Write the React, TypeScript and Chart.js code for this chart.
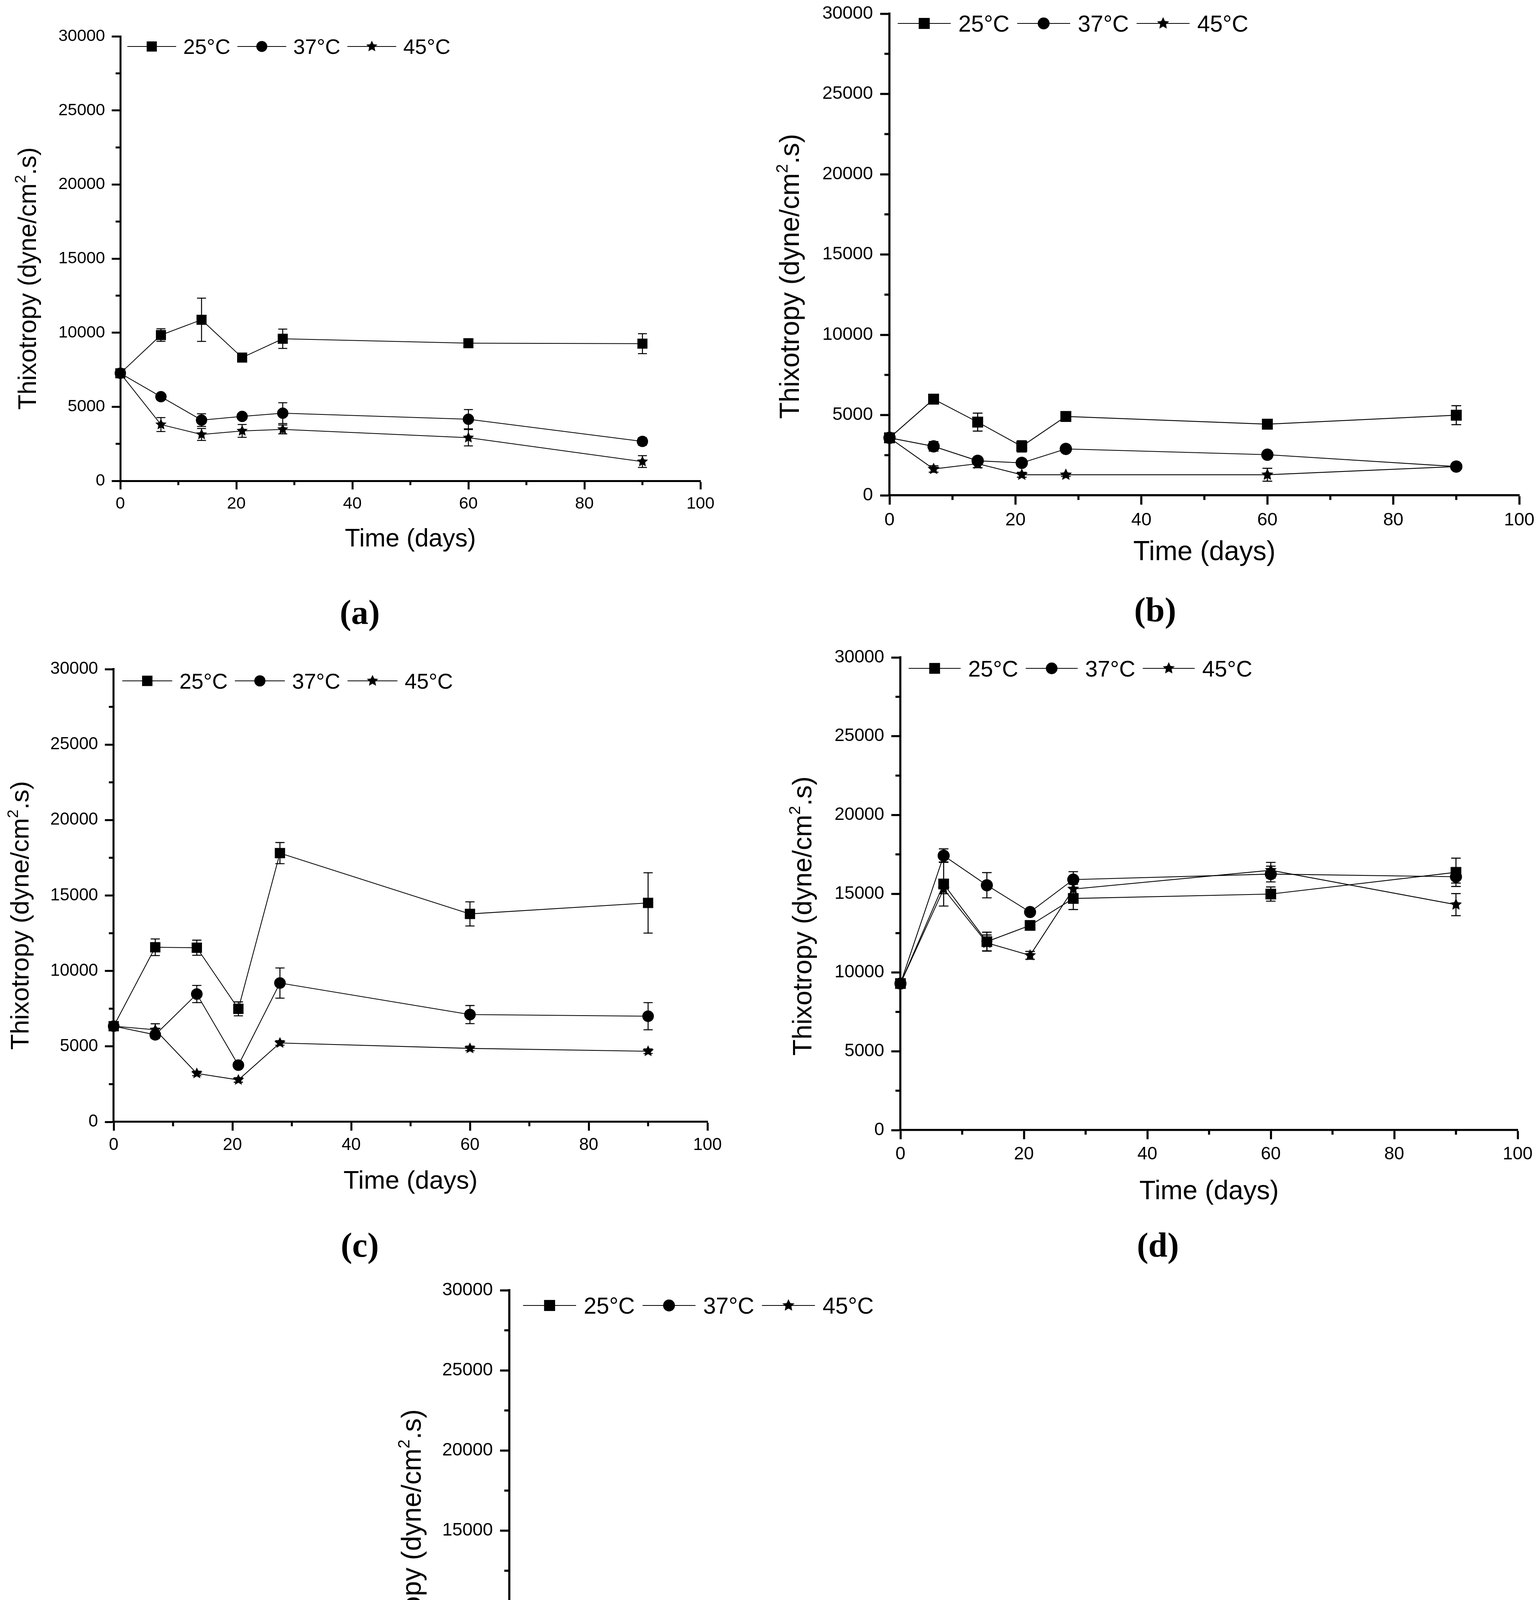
import React, { useEffect, useRef } from "react";
import { Chart, registerables } from "chart.js";

Chart.register(...registerables);

// ---------------- data ----------------
const DAYS = [0, 7, 14, 21, 28, 60, 90];
const SERIES = ["25°C", "37°C", "45°C"];
const X_MIN = 0;
const X_MAX = 100;
const X_STEP = 20;
const X_MINOR = [10, 30, 50, 70, 90];
const Y_MIN = 0;
const Y_MAX = 30000;
const Y_STEP = 5000;
const Y_MINOR = [2500, 7500, 12500, 17500, 22500, 27500];
const X_TITLE = "Time (days)";
const Y_TITLE_MAIN = "Thixotropy (dyne/cm";
const Y_TITLE_SUP = "2";
const Y_TITLE_END = ".s)";

// (a)
const A_25 = [7260, 9840, 10870, 8320, 9590, 9290, 9260];
const A_25_ERR = [150, 420, 1460, 150, 650, 150, 670];
const A_37 = [7260, 5680, 4100, 4350, 4570, 4160, 2660];
const A_37_ERR = [150, 150, 430, 150, 700, 650, 250];
const A_45 = [7260, 3800, 3130, 3370, 3470, 2910, 1300];
const A_45_ERR = [150, 470, 400, 430, 300, 550, 400];

// (b)
const B_25 = [3580, 5990, 4560, 3050, 4910, 4430, 4990];
const B_25_ERR = [150, 200, 560, 350, 150, 100, 590];
const B_37 = [3580, 3050, 2150, 2020, 2890, 2530, 1790];
const B_37_ERR = [150, 300, 200, 100, 100, 150, 150];
const B_45 = [3580, 1640, 1970, 1280, 1280, 1280, 1790];
const B_45_ERR = [150, 200, 250, 150, 100, 400, 150];

// (c)
const C_25 = [6340, 11570, 11540, 7490, 17810, 13780, 14510];
const C_25_ERR = [150, 550, 500, 460, 700, 800, 2000];
const C_37 = [6340, 5770, 8470, 3760, 9200, 7110, 7000];
const C_37_ERR = [150, 250, 570, 150, 1000, 600, 900];
const C_45 = [6340, 6100, 3210, 2780, 5230, 4870, 4680];
const C_45_ERR = [150, 400, 150, 150, 150, 150, 150];

// (d)
const D_25 = [9300, 15620, 11960, 12990, 14700, 14980, 16360];
const D_25_ERR = [150, 1400, 600, 100, 700, 450, 900];
const D_37 = [9300, 17420, 15540, 13840, 15900, 16250, 16080];
const D_37_ERR = [150, 430, 800, 150, 500, 500, 400];
const D_45 = [9300, 15300, 11880, 11090, 15300, 16490, 14310];
const D_45_ERR = [150, 300, 500, 250, 300, 500, 700];

// (e)
const E_25 = [5120, 7830, 7120, 6120, 8910, 7600, 7630];
const E_25_ERR = [150, 850, 150, 450, 650, 100, 200];
const E_37 = [5120, 5120, 4450, 3200, 3760, 3690, 2870];
const E_37_ERR = [500, 150, 200, 250, 550, 600, 500];
const E_45 = [5120, 4270, 3990, 1380, 2480, 2560, 4760];
const E_45_ERR = [150, 200, 200, 150, 1150, 300, 200];

// ---------------- layout ----------------
const FONT = "'Liberation Sans', Arial, Helvetica, sans-serif";
const SERIF = "'Liberation Serif', 'Times New Roman', serif";
const PAD_L = 330;
const PAD_R = 120;
const PAD_T = 60;
const PAD_B = 240;

type PanelDef = {
  tag: string;
  values: number[][];
  errors: number[][];
  left: number;
  top: number;
  right: number;
  bottom: number;
  labelX: number;
  labelY: number;
  legendDx: number;
  legendDy: number;
  yTitleDist: number;
  yTitleOff: number;
  xTitleDy: number;
};

const PANELS: PanelDef[] = [
  {
    tag: "(a)", values: [A_25, A_37, A_45], errors: [A_25_ERR, A_37_ERR, A_45_ERR],
    left: 308, top: 93, right: 1793, bottom: 1231, labelX: 921, labelY: 1568,
    legendDx: 18, legendDy: 26, yTitleDist: 234, yTitleOff: 51, xTitleDy: 150,
  },
  {
    tag: "(b)", values: [B_25, B_37, B_45], errors: [B_25_ERR, B_37_ERR, B_45_ERR],
    left: 2277, top: 35, right: 3889, bottom: 1268, labelX: 2957, labelY: 1562,
    legendDx: 21, legendDy: 25, yTitleDist: 251, yTitleOff: 56, xTitleDy: 147,
  },
  {
    tag: "(c)", values: [C_25, C_37, C_45], errors: [C_25_ERR, C_37_ERR, C_45_ERR],
    left: 291, top: 1713, right: 1811, bottom: 2872, labelX: 921, labelY: 3188,
    legendDx: 22, legendDy: 30, yTitleDist: 236, yTitleOff: 51, xTitleDy: 153,
  },
  {
    tag: "(d)", values: [D_25, D_37, D_45], errors: [D_25_ERR, D_37_ERR, D_45_ERR],
    left: 2305, top: 1683, right: 3885, bottom: 2893, labelX: 2964, labelY: 3188,
    legendDx: 21, legendDy: 28, yTitleDist: 247, yTitleOff: 57, xTitleDy: 158,
  },
  {
    tag: "(e)", values: [E_25, E_37, E_45], errors: [E_25_ERR, E_37_ERR, E_45_ERR],
    left: 1304, top: 3303, right: 2916, bottom: 4534, labelX: 1971, labelY: 4859,
    legendDx: 35, legendDy: 39, yTitleDist: 246, yTitleOff: 54, xTitleDy: 163,
  },
];

function makeStar(R: number): HTMLCanvasElement {
  const s = Math.ceil(2 * R + 4);
  const c = document.createElement("canvas");
  c.width = s;
  c.height = s;
  const ctx = c.getContext("2d")!;
  ctx.translate(s / 2, s / 2);
  ctx.beginPath();
  for (let i = 0; i < 10; i++) {
    const r = i % 2 === 0 ? R : R * 0.48;
    const a = -Math.PI / 2 + (i * Math.PI) / 5;
    ctx.lineTo(r * Math.cos(a), r * Math.sin(a));
  }
  ctx.closePath();
  ctx.fillStyle = "#000";
  ctx.fill();
  return c;
}

function Panel({ p }: { p: PanelDef }) {
  const ref = useRef<HTMLCanvasElement>(null);
  const w = p.right - p.left;
  const h = p.bottom - p.top;
  const k = w / 1485;
  const cw = w + PAD_L + PAD_R;
  const ch = h + PAD_T + PAD_B;

  useEffect(() => {
    const canvas = ref.current!;
    const star = makeStar(15 * k);
    const styles: any[] = ["rect", "circle", star];
    const radii = [18.2 * k, 14.5 * k, 15 * k];

    const datasets = SERIES.map((label, si) => ({
      label,
      data: DAYS.map((d, i) => ({ x: d, y: p.values[si][i] })),
      borderColor: "#000",
      backgroundColor: "#000",
      borderWidth: 2 * k,
      pointStyle: styles[si],
      pointRadius: radii[si],
      pointHoverRadius: radii[si],
      pointBorderWidth: 0,
      pointBackgroundColor: "#000",
      pointBorderColor: "#000",
      tension: 0,
      fill: false,
      clip: false as any,
    }));

    const errorBars = {
      id: "errorBars",
      beforeDatasetsDraw(chart: any) {
        const ctx = chart.ctx;
        const xs = chart.scales.x;
        const ys = chart.scales.y;
        const cap = 11.5 * k;
        ctx.save();
        ctx.strokeStyle = "#000";
        ctx.lineWidth = 2.5 * k;
        p.values.forEach((vals, si) => {
          const errs = p.errors[si];
          vals.forEach((v, i) => {
            const x = xs.getPixelForValue(DAYS[i]);
            const y1 = ys.getPixelForValue(v + errs[i]);
            const y2 = ys.getPixelForValue(v - errs[i]);
            ctx.beginPath();
            ctx.moveTo(x, y1);
            ctx.lineTo(x, y2);
            ctx.moveTo(x - cap, y1);
            ctx.lineTo(x + cap, y1);
            ctx.moveTo(x - cap, y2);
            ctx.lineTo(x + cap, y2);
            ctx.stroke();
          });
        });
        ctx.restore();
      },
    };

    const decor = {
      id: "decor",
      afterDraw(chart: any) {
        const ctx = chart.ctx;
        const area = chart.chartArea;
        const xs = chart.scales.x;
        const ys = chart.scales.y;
        ctx.save();
        // minor ticks
        ctx.strokeStyle = "#000";
        ctx.lineWidth = 5 * k;
        Y_MINOR.forEach((v) => {
          const y = ys.getPixelForValue(v);
          ctx.beginPath();
          ctx.moveTo(area.left, y);
          ctx.lineTo(area.left - 12 * k, y);
          ctx.stroke();
        });
        X_MINOR.forEach((v) => {
          const x = xs.getPixelForValue(v);
          ctx.beginPath();
          ctx.moveTo(x, area.bottom);
          ctx.lineTo(x, area.bottom + 11 * k);
          ctx.stroke();
        });

        // legend inside plot
        const fs = 54 * k;
        const L = 125 * k;
        const g1 = 18 * k;
        const g2 = 18 * k;
        let lx = area.left + p.legendDx;
        const ly = area.top + p.legendDy;
        ctx.fillStyle = "#000";
        ctx.font = `${fs}px ${FONT}`;
        ctx.textAlign = "left";
        ctx.textBaseline = "alphabetic";
        SERIES.forEach((label, si) => {
          ctx.lineWidth = 2 * k;
          ctx.beginPath();
          ctx.moveTo(lx, ly);
          ctx.lineTo(lx + L, ly);
          ctx.stroke();
          const mx = lx + L / 2;
          if (si === 0) {
            const s = 26 * k;
            ctx.fillRect(mx - s / 2, ly - s / 2, s, s);
          } else if (si === 1) {
            ctx.beginPath();
            ctx.arc(mx, ly, 14 * k, 0, Math.PI * 2);
            ctx.fill();
          } else {
            ctx.drawImage(star, mx - star.width / 2, ly - star.height / 2);
          }
          const tx = lx + L + g1;
          ctx.fillText(label, tx, ly + 0.36 * fs);
          const tw = ctx.measureText(label).width;
          lx = tx + tw + g2;
        });

        // x title
        const ts = 64 * k;
        ctx.font = `${ts}px ${FONT}`;
        ctx.textAlign = "center";
        ctx.fillText(X_TITLE, (area.left + area.right) / 2, area.bottom + p.xTitleDy + 0.28 * ts);

        // y title (rotated, with superscript)
        ctx.save();
        ctx.translate(area.left - p.yTitleDist, (area.top + area.bottom) / 2 + p.yTitleOff);
        ctx.rotate(-Math.PI / 2);
        ctx.textAlign = "left";
        ctx.font = `${ts}px ${FONT}`;
        const w1 = ctx.measureText(Y_TITLE_MAIN).width;
        const w3 = ctx.measureText(Y_TITLE_END).width;
        ctx.font = `${ts * 0.6}px ${FONT}`;
        const w2 = ctx.measureText(Y_TITLE_SUP).width;
        let tx = -(w1 + w2 + w3) / 2;
        const base = 0.28 * ts;
        ctx.font = `${ts}px ${FONT}`;
        ctx.fillText(Y_TITLE_MAIN, tx, base);
        tx += w1;
        ctx.font = `${ts * 0.6}px ${FONT}`;
        ctx.fillText(Y_TITLE_SUP, tx, base - ts * 0.42);
        tx += w2;
        ctx.font = `${ts}px ${FONT}`;
        ctx.fillText(Y_TITLE_END, tx, base);
        ctx.restore();

        ctx.restore();
      },
    };

    const axisCommon = (tickPad: number) => ({
      grid: {
        drawOnChartArea: false,
        drawTicks: true,
        tickLength: 22 * k,
        tickWidth: 5 * k,
        tickColor: "#000",
      },
      border: { display: true, width: 5 * k, color: "#000" },
      ticks: {
        color: "#000",
        font: { family: FONT, size: 43 * k },
        padding: tickPad,
        autoSkip: false,
        maxRotation: 0,
        minRotation: 0,
        callback: (v: any) => String(v),
      },
    });

    const xc: any = axisCommon(11 * k);
    xc.ticks.stepSize = X_STEP;
    const yc: any = axisCommon(17 * k);
    yc.ticks.stepSize = Y_STEP;

    const chart = new Chart(canvas, {
      type: "line",
      data: { datasets: datasets as any },
      options: {
        animation: false,
        responsive: false,
        maintainAspectRatio: false,
        devicePixelRatio: 1,
        events: [],
        layout: { padding: { top: PAD_T, right: PAD_R, bottom: 0, left: 0 } },
        plugins: {
          legend: { display: false },
          tooltip: { enabled: false },
          title: { display: false },
        },
        scales: {
          x: {
            type: "linear",
            min: X_MIN,
            max: X_MAX,
            afterFit: (s: any) => {
              s.height = PAD_B;
            },
            ...xc,
          },
          y: {
            type: "linear",
            min: Y_MIN,
            max: Y_MAX,
            afterFit: (s: any) => {
              s.width = PAD_L;
            },
            ...yc,
          },
        },
      } as any,
      plugins: [errorBars, decor],
    });
    return () => chart.destroy();
  }, []);

  return (
    <>
      <canvas
        ref={ref}
        width={cw}
        height={ch}
        style={{
          position: "absolute",
          left: p.left - PAD_L,
          top: p.top - PAD_T,
          width: cw,
          height: ch,
        }}
      />
      <div
        style={{
          position: "absolute",
          left: p.labelX,
          top: p.labelY,
          transform: "translate(-50%, -50%)",
          font: `bold 88px ${SERIF}`,
          lineHeight: 1,
          color: "#000",
          whiteSpace: "nowrap",
        }}
      >
        {p.tag}
      </div>
    </>
  );
}

export default function App() {
  return (
    <div
      style={{
        position: "absolute",
        left: 0,
        top: 0,
        width: 3937,
        height: 4897,
        background: "#fff",
        overflow: "hidden",
      }}
    >
      {PANELS.map((p) => (
        <Panel key={p.tag} p={p} />
      ))}
    </div>
  );
}
